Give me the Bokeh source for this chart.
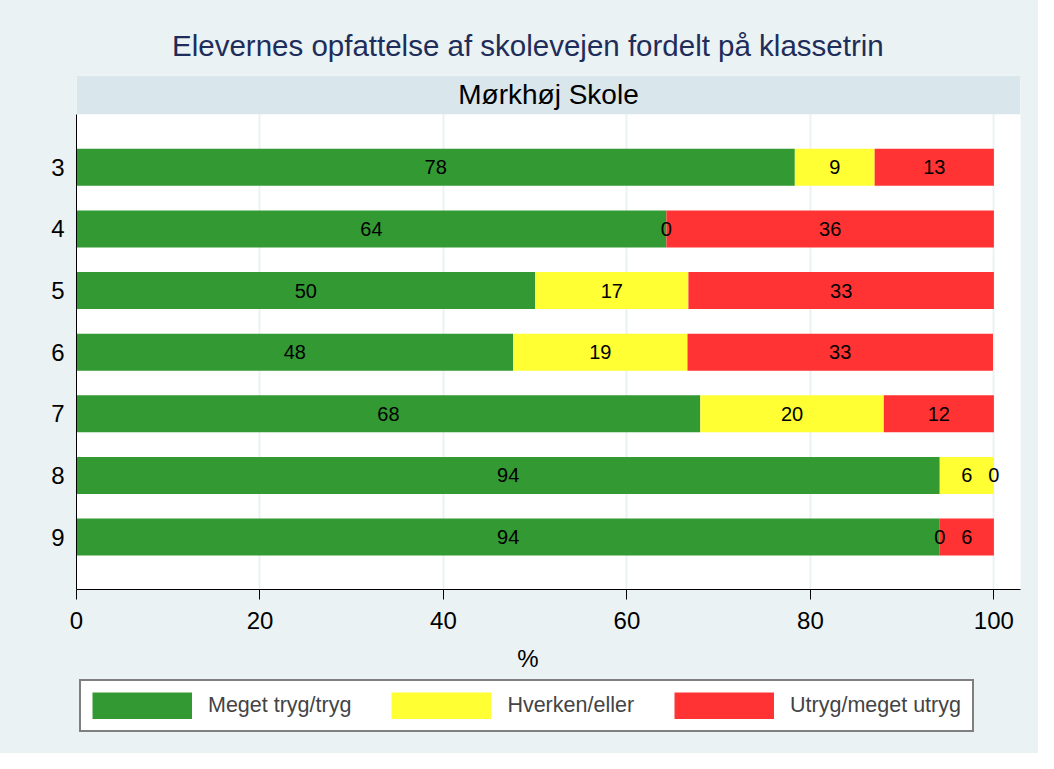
from bokeh.plotting import figure
from bokeh.layouts import column
from bokeh.models import Range1d, FixedTicker, Legend, LegendItem, ColumnDataSource
from bokeh.core.properties import value
from bokeh.embed import file_html
from bokeh.resources import INLINE

# ---------------- data ----------------
title_text = "Elevernes opfattelse af skolevejen fordelt på klassetrin"
school = "Mørkhøj Skole"
grades = ["3", "4", "5", "6", "7", "8", "9"]
tryg = [78.3, 64.3, 50.0, 47.6, 68.0, 94.1, 94.1]
hverken = [8.7, 0.0, 16.7, 19.0, 20.0, 5.9, 0.0]
utryg = [13.0, 35.7, 33.3, 33.3, 12.0, 0.0, 5.9]
series_names = ["Meget tryg/tryg", "Hverken/eller", "Utryg/meget utryg"]
x_ticks = [0, 20, 40, 60, 80, 100]
x_label = "%"

# ---------------- style ----------------
FONT = "Liberation Sans"
BG = "#EAF2F3"
STRIP = "#D9E6EB"
TITLE_COLOR = "#1E2D5A"
COLORS = ["#339933", "#FFFF33", "#FF3333"]

W = 1038
H_TOP = 75
H_FRAME = 514
H_MAIN_BOTTOM = 55
H_MAIN = H_FRAME + H_MAIN_BOTTOM
H_LEG = 753 - H_TOP - H_MAIN
BORDER_L = 76
BORDER_R = 18

Y_TOP_PLOT = -0.86
Y_BOTTOM = 6.85
Y_STRIP_TOP = -1.49
X_MAX = 102.9
TEXT_CENTER_X = 49.2   # horizontal centre of title / axis title (Stata centres on the graph)

x_range = Range1d(0, X_MAX)

# ---------------- top figure: title ----------------
t = figure(width=W, height=H_TOP, output_backend="svg", toolbar_location=None,
           x_range=x_range, y_range=Range1d(H_TOP, 0),
           x_axis_type=None, y_axis_type=None, title=None,
           min_border_left=BORDER_L, min_border_right=BORDER_R,
           min_border_top=0, min_border_bottom=0,
           background_fill_color=BG, border_fill_color=BG, outline_line_color=None)
t.grid.visible = False
t.text(x=[TEXT_CENTER_X], y=[45], text=[title_text], text_align="center",
       text_baseline="middle", text_font=value(FONT), text_font_size="29.5px",
       text_color=TITLE_COLOR)

# ---------------- main figure ----------------
p = figure(width=W, height=H_MAIN, output_backend="svg", toolbar_location=None,
           x_range=x_range, y_range=Range1d(Y_BOTTOM, Y_STRIP_TOP), title=None,
           min_border_left=BORDER_L, min_border_right=BORDER_R, min_border_top=0,
           min_border_bottom=H_MAIN_BOTTOM,
           background_fill_color="white", border_fill_color=BG,
           outline_line_color=None)

ypos = list(range(len(grades)))

# strip header
p.quad(left=[0], right=[X_MAX], top=[Y_STRIP_TOP], bottom=[Y_TOP_PLOT],
       fill_color=STRIP, line_color=None)
p.text(x=[X_MAX / 2], y=[(Y_STRIP_TOP + Y_TOP_PLOT) / 2], text=[school],
       text_align="center", text_baseline="middle", text_font=value(FONT),
       text_font_size="28px", text_color="black")

lefts = [0.0] * len(grades)
sources = []
for name, vals, col in zip(series_names, [tryg, hverken, utryg], COLORS):
    rights = [l + v for l, v in zip(lefts, vals)]
    src = ColumnDataSource(dict(
        y=ypos, left=lefts, right=rights,
        mid=[(l + r) / 2 for l, r in zip(lefts, rights)],
        lab=[f"{round(v):d}" for v in vals]))
    p.hbar(y="y", left="left", right="right", height=0.6, source=src,
           fill_color=col, line_color=None)
    sources.append(src)
    lefts = rights

for src in sources:
    p.text(x="mid", y="y", text="lab", source=src, text_align="center",
           text_baseline="middle", text_font=value(FONT), text_font_size="20px",
           text_color="black")

# grid
p.xgrid.ticker = FixedTicker(ticks=[v for v in x_ticks if v > 0])
p.xgrid.grid_line_color = BG
p.xgrid.grid_line_width = 2
p.ygrid.visible = False

# x axis
xa = p.xaxis[0]
xa.ticker = FixedTicker(ticks=x_ticks)
xa.major_label_text_font = FONT
xa.major_label_text_font_size = "24px"
xa.major_label_text_color = "black"
xa.major_tick_out = 10
xa.major_tick_in = 0
xa.minor_tick_out = 0
xa.minor_tick_in = 0
xa.axis_line_color = "black"
xa.major_tick_line_color = "black"
xa.major_label_standoff = 12

# y axis
ya = p.yaxis[0]
ya.ticker = FixedTicker(ticks=ypos)
ya.major_label_overrides = {i: g for i, g in zip(ypos, grades)}
ya.major_label_text_font = FONT
ya.major_label_text_font_size = "24px"
ya.major_label_text_color = "black"
ya.major_tick_out = 0
ya.major_tick_in = 0
ya.minor_tick_out = 0
ya.minor_tick_in = 0
ya.axis_line_color = "black"
ya.bounds = (Y_TOP_PLOT, Y_BOTTOM)
ya.major_label_standoff = 12

# ---------------- lower figure: axis title + legend ----------------
q = figure(width=W, height=H_LEG, output_backend="svg", toolbar_location=None,
           x_range=x_range, y_range=Range1d(H_LEG, 0),
           x_axis_type=None, y_axis_type=None, title=None,
           min_border_left=BORDER_L, min_border_right=BORDER_R,
           min_border_top=0, min_border_bottom=0,
           background_fill_color=BG, border_fill_color=BG, outline_line_color=None)
q.grid.visible = False

q.text(x=[TEXT_CENTER_X], y=[14], text=[x_label], text_align="center",
       text_baseline="middle", text_font=value(FONT), text_font_size="24px",
       text_color="black")

# legend swatches: thick butt-capped lines (drawn off-screen) give exact 100x27 keys
legend_renderers = [q.line(x=[-20, -10], y=[-50, -50], line_color=c, line_width=27,
                           line_cap="butt") for c in COLORS]
legend = Legend(items=[LegendItem(label=n, renderers=[r]) for n, r in zip(series_names, legend_renderers)],
                orientation="horizontal", location=(3, 21),
                glyph_width=100, glyph_height=27, label_standoff=16, spacing=40,
                padding=11, border_line_color="black", border_line_width=2,
                background_fill_color="white", background_fill_alpha=1,
                label_text_font=FONT, label_text_font_size="21.5px",
                label_height=27)
q.add_layout(legend, "center")

layout = column(t, p, q, spacing=0, styles={"background-color": BG})
open("out.html", "w").write(file_html(layout, INLINE))
